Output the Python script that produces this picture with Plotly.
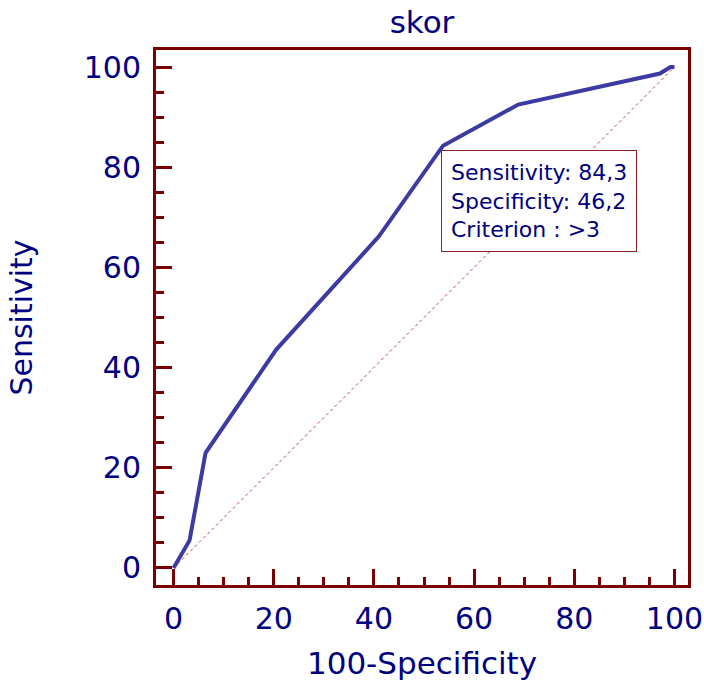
import plotly.graph_objects as go

fpr = [0, 3.2, 6.4, 20.5, 41.0, 53.8, 68.8, 97.1, 99.2, 100]
tpr = [0, 5.5, 23.0, 43.6, 66.2, 84.3, 92.5, 98.7, 100, 100]
diag_x = [0, 100]
diag_y = [0, 100]
ticks = [0, 20, 40, 60, 80, 100]
box_lines = ["Sensitivity: 84,3", "Specificity: 46,2", "Criterion : >3"]
cut_x, cut_y = 53.8, 84.3

FONT = "DejaVu Sans, Verdana, sans-serif"
NAVY = "#000080"
FRAME = "#780000"

fig = go.Figure()
fig.add_trace(go.Scatter(x=diag_x, y=diag_y, mode="lines",
                         line=dict(color="#b84040", width=1, dash="dot"),
                         showlegend=False, hoverinfo="skip"))
fig.add_trace(go.Scatter(x=fpr, y=tpr, mode="lines",
                         line=dict(color="#3b3ba3", width=4),
                         showlegend=False))

axis_common = dict(
    automargin=False,
    showline=True, linecolor=FRAME, linewidth=3, mirror=True,
    ticks="inside", ticklen=16, tickwidth=3, tickcolor=FRAME,
    tickvals=ticks, ticktext=[str(t) for t in ticks],
    minor=dict(ticks="inside", ticklen=8, tickwidth=3, tickcolor=FRAME, dtick=5),
    showgrid=False, zeroline=False,
    tickfont=dict(family=FONT, size=30, color=NAVY),
)

fig.update_layout(
    width=704, height=695,
    margin=dict(l=156, r=16, t=50, b=110),
    paper_bgcolor="white", plot_bgcolor="white",
    title=dict(text="skor", x=0.5, xref="paper", y=0.968, yanchor="middle",
               font=dict(family=FONT, size=31, color=NAVY)),
    xaxis=dict(range=[-3.5, 102.7],
               title=dict(text="100-Specificity", standoff=18,
                          font=dict(family=FONT, size=31, color=NAVY)),
               ticklabelstandoff=5, **axis_common),
    yaxis=dict(range=[-3.4, 103.4],
               title=dict(text="Sensitivity", standoff=43,
                          font=dict(family=FONT, size=30, color=NAVY)),
               ticklabelstandoff=6, **axis_common),
    annotations=[dict(
        x=cut_x, y=cut_y, xref="x", yref="y", xanchor="left", yanchor="top",
        xshift=-2, yshift=-4,
        text="<br>".join(box_lines), showarrow=False, align="left",
        font=dict(family=FONT, size=22, color=NAVY),
        bordercolor="#8b2020", borderwidth=1, borderpad=9, bgcolor="white",
    )],
)

fig.write_html("out.html")
